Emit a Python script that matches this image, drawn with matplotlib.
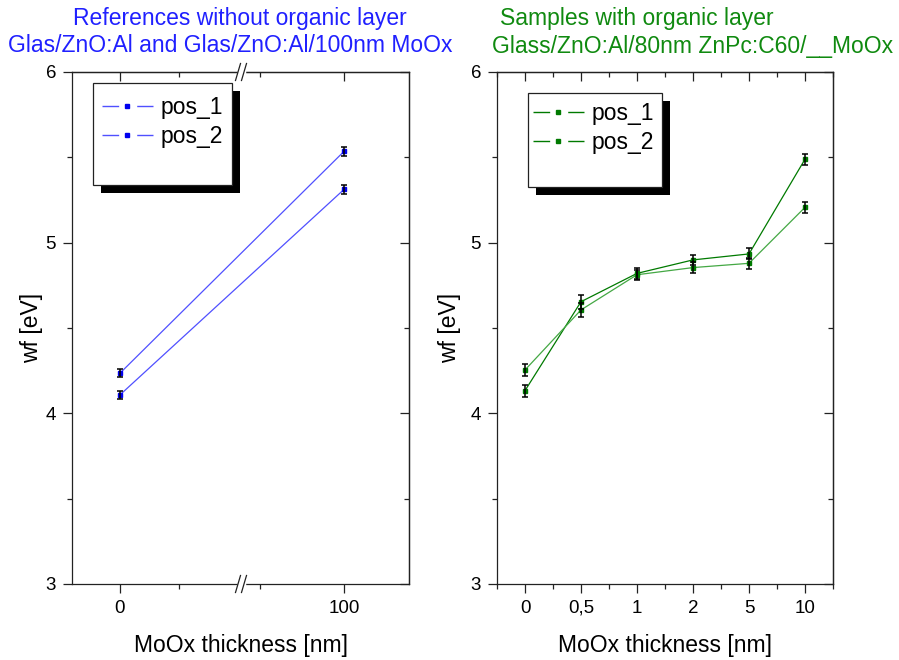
import matplotlib
matplotlib.use("Agg")
import matplotlib.pyplot as plt
from matplotlib.lines import Line2D
from matplotlib.patches import Rectangle
from matplotlib.ticker import FixedLocator, MultipleLocator

plt.rcParams["font.family"] = ["Liberation Sans", "DejaVu Sans"]

# --- data -------------------------------------------------------------
ref_thickness = ["0", "100"]
ref_pos1 = [4.235, 5.535]
ref_pos2 = [4.108, 5.312]
ref_err1 = [0.025, 0.028]
ref_err2 = [0.025, 0.028]

org_thickness = ["0", "0,5", "1", "2", "5", "10"]
org_pos1 = [4.133, 4.654, 4.820, 4.899, 4.934, 5.489]
org_pos2 = [4.254, 4.606, 4.812, 4.854, 4.879, 5.207]
org_err1 = [0.035, 0.040, 0.030, 0.030, 0.032, 0.032]
org_err2 = [0.035, 0.040, 0.030, 0.030, 0.032, 0.032]

series_names = ["pos_1", "pos_2"]

BLUE = "#0000ee"
BLUE_LINE = "#5050ff"
GREEN = "#007a00"
GREEN_LIGHT = "#44a844"
TITLE_BLUE = "#2020ff"
TITLE_GREEN = "#108a10"

W, H = 899, 660
fig = plt.figure(figsize=(W / 100, H / 100), dpi=100)


def px_axes(x0, x1, y0, y1):
    return fig.add_axes([x0 / W, 1 - y1 / H, (x1 - x0) / W, (y1 - y0) / H])


ax1 = px_axes(72, 409, 72, 584)
ax2 = px_axes(497, 833, 72, 584)

TICK_FS = 13.5
LABEL_FS = 16.5


def style_axes(ax, xmaj, xmin, xlabels, xlim, ylabelpad):
    ax.set_xlim(*xlim)
    ax.set_ylim(3, 6)
    for s in ax.spines.values():
        s.set_linewidth(0.9)
        s.set_color("#222222")
    ax.set_xticks(xmaj)
    ax.set_xticklabels(xlabels, fontsize=TICK_FS)
    ax.xaxis.set_minor_locator(FixedLocator(xmin))
    ax.set_yticks([3, 4, 5, 6])
    ax.set_yticklabels(["3", "4", "5", "6"], fontsize=TICK_FS)
    ax.yaxis.set_minor_locator(MultipleLocator(0.5))
    ax.tick_params(which="major", direction="out", length=6.5, width=0.9,
                   color="#222222", top=False, right=False, pad=5)
    ax.tick_params(which="minor", direction="out", length=3.5, width=0.9,
                   color="#222222", top=False, right=False)
    # mirrored ticks pointing inwards on top and right
    top = ax.secondary_xaxis("top")
    top.set_xticks(xmaj)
    top.xaxis.set_minor_locator(FixedLocator(xmin))
    top.tick_params(which="major", direction="in", length=6.5, width=0.9,
                    color="#222222", labeltop=False)
    top.tick_params(which="minor", direction="in", length=3.5, width=0.9,
                    color="#222222")
    top.spines["top"].set_linewidth(0.9)
    top.spines["top"].set_color("#222222")
    right = ax.secondary_yaxis("right")
    right.set_yticks([3, 4, 5, 6])
    right.yaxis.set_minor_locator(MultipleLocator(0.5))
    right.tick_params(which="major", direction="in", length=6.5, width=0.9,
                      color="#222222", labelright=False)
    right.tick_params(which="minor", direction="in", length=3.5, width=0.9,
                      color="#222222")
    right.spines["right"].set_linewidth(0.9)
    right.spines["right"].set_color("#222222")
    ax.set_xlabel("MoOx thickness [nm]", fontsize=LABEL_FS, labelpad=12)
    ax.set_ylabel("wf [eV]", fontsize=LABEL_FS, labelpad=ylabelpad)


# left panel: broken axis between 0 and 100 nm
ref_x = list(range(len(ref_thickness)))
style_axes(ax1, ref_x, [0.263, 0.625], ref_thickness, (-0.214, 1.290), 1.5)

# right panel: categorical thickness steps
org_x = list(range(len(org_thickness)))
style_axes(ax2, org_x, [i + 0.5 for i in range(-1, len(org_x))],
           org_thickness, (-0.5, len(org_x) - 0.5), 7)


def draw_series(ax, x, y, err, line_color, marker_color):
    ax.plot(x, y, color=line_color, lw=0.9, zorder=2)
    ax.plot(x, y, ls="none", marker="s", ms=3.2, color=marker_color,
            zorder=3)
    ax.errorbar(x, y, yerr=err, fmt="none", ecolor="black", elinewidth=1.1,
                capsize=2.4, capthick=1.1, zorder=4)


draw_series(ax1, ref_x, ref_pos1, ref_err1, BLUE_LINE, BLUE)
draw_series(ax1, ref_x, ref_pos2, ref_err2, BLUE_LINE, BLUE)
draw_series(ax2, org_x, org_pos1, org_err1, GREEN, GREEN)
draw_series(ax2, org_x, org_pos2, org_err2, GREEN_LIGHT, GREEN)


# axis-break markers "//" on top and bottom of the left panel
def break_marks(ax, xfrac):
    bb = ax.get_position()
    aw, ah = bb.width * W, bb.height * H
    for yfrac in (0.0, 1.0):
        # white gap in the spine
        fig.add_artist(Line2D([xfrac - 2.5 / aw, xfrac + 2.5 / aw],
                              [yfrac, yfrac], transform=ax.transAxes,
                              color="white", lw=2.5, zorder=10))
        for off in (-3.0, 3.0):
            fig.add_artist(Line2D(
                [xfrac + (off - 2.5) / aw, xfrac + (off + 2.5) / aw],
                [yfrac - 8.5 / ah, yfrac + 8.5 / ah],
                transform=ax.transAxes, color="#222222", lw=0.9, zorder=11))


break_marks(ax1, (241 - 72) / 337)


# legend box with a solid black drop shadow
def legend_box(ax, box_px, handle_px, line_colors, marker_color):
    bb = ax.get_position()
    ax0, ay1 = bb.x0 * W, (1 - bb.y1) * H
    aw, ah = bb.width * W, bb.height * H
    x0, x1, y0, y1 = box_px

    def fx(v):
        return (v - ax0) / aw

    def fy(v):
        return 1 - (v - ay1) / ah

    sh = 8
    ax.add_patch(Rectangle((fx(x0 + sh), fy(y1 + sh)), fx(x1) - fx(x0),
                           fy(y0) - fy(y1), transform=ax.transAxes,
                           facecolor="black", edgecolor="black", lw=0,
                           zorder=6))
    ax.add_patch(Rectangle((fx(x0), fy(y1)), fx(x1) - fx(x0),
                           fy(y0) - fy(y1), transform=ax.transAxes,
                           facecolor="white", edgecolor="#222222", lw=0.9,
                           zorder=7))
    handles = []
    for c in line_colors:
        h = Line2D([], [], color=c, lw=1.0, marker="s", ms=3.2,
                   markerfacecolor=marker_color, markeredgecolor=marker_color)
        h.set_dashes((12, 13))
        handles.append(h)
    hx, hy = handle_px
    leg = ax.legend(handles, series_names, loc="upper left",
                    bbox_to_anchor=(fx(hx), fy(hy)), borderaxespad=0,
                    borderpad=0, frameon=False, fontsize=LABEL_FS,
                    handlelength=2.22, handletextpad=0.35,
                    labelspacing=0.25, numpoints=1)
    leg.set_zorder(8)


legend_box(ax1, (93, 232, 83, 185), (102, 96), [BLUE_LINE, BLUE_LINE], BLUE)
legend_box(ax2, (528, 662, 93, 187), (533, 102), [GREEN, GREEN], GREEN)

# two-line headings above each panel
fig.text(240 / W, 1 - 18 / H, "References without organic layer",
         ha="center", va="center", fontsize=LABEL_FS, color=TITLE_BLUE)
fig.text(230 / W, 1 - 45 / H, "Glas/ZnO:Al and Glas/ZnO:Al/100nm MoOx",
         ha="center", va="center", fontsize=LABEL_FS, color=TITLE_BLUE)
fig.text(637 / W, 1 - 19 / H, "Samples with organic layer",
         ha="center", va="center", fontsize=LABEL_FS, color=TITLE_GREEN)
fig.text(693 / W, 1 - 47 / H, "Glass/ZnO:Al/80nm ZnPc:C60/__MoOx",
         ha="center", va="center", fontsize=LABEL_FS, color=TITLE_GREEN)

fig.savefig("out.png", dpi=100)
